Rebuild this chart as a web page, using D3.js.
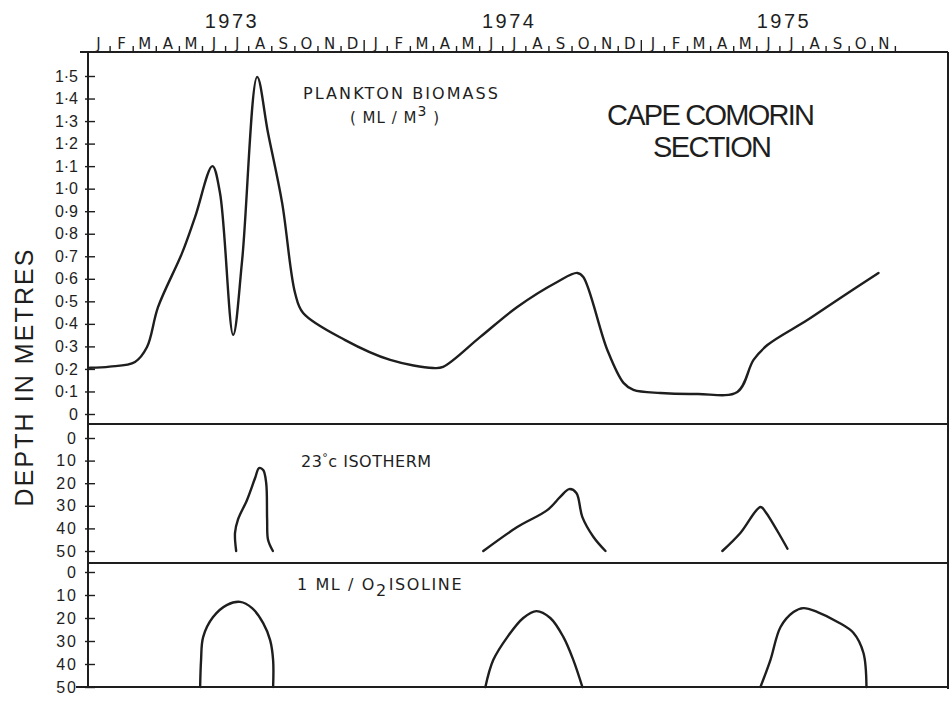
<!DOCTYPE html>
<html>
<head>
<meta charset="utf-8">
<script src="https://cdn.jsdelivr.net/npm/d3@7/dist/d3.min.js"></script>
<style>
  body { margin: 0; background: #fff; }
  svg { display: block; }
</style>
</head>
<body>
<svg id="chart" width="952" height="702" font-family="Liberation Sans, Arial, sans-serif" fill="#1e1e1e"></svg>
<script>
// months Jan 1973 .. Nov 1975 (index 0 = Jan 1973)
const monthLetters = [
  "J","F","M","A","M","J","J","A","S","O","N","D",
  "J","F","M","A","M","J","J","A","S","O","N","D",
  "J","F","M","A","M","J","J","A","S","O","N"
]
const years = ["1973", "1974", "1975"]
const yearMonth = [6.3, 18.3, 30.2]

const biomassTicks = [0, 0.1, 0.2, 0.3, 0.4, 0.5, 0.6, 0.7, 0.8, 0.9, 1.0, 1.1, 1.2, 1.3, 1.4, 1.5]
const depthTicks = [0, 10, 20, 30, 40, 50]

// plankton biomass ml/m3
const biomassMonth = [0.15, 1.0, 2.1, 2.62, 3.1, 4.14, 4.7, 5.45, 5.78, 6.35, 6.74, 7.39, 7.86, 8.47, 9.03, 9.38, 11.2, 13.15, 15.01, 15.44, 17.05, 18.65, 20.38, 21.25, 21.51, 22.55, 23.25, 23.68, 24.85, 26.45, 28.18, 28.88, 29.48, 31.21, 32.64, 34.29]
const biomassValue = [0.205, 0.21, 0.231, 0.297, 0.475, 0.715, 0.874, 1.1, 0.981, 0.351, 0.684, 1.496, 1.247, 0.937, 0.537, 0.448, 0.328, 0.24, 0.204, 0.209, 0.342, 0.475, 0.586, 0.626, 0.608, 0.284, 0.138, 0.107, 0.093, 0.089, 0.098, 0.24, 0.306, 0.417, 0.515, 0.626]

// 23°C isotherm depth (m)
const iso73Month = [6.48, 6.43, 6.56, 6.95, 7.3, 7.47, 7.65, 7.78, 7.82, 7.86, 8.07]
const iso73Depth = [50, 42, 36, 27.4, 17.7, 13.3, 14.2, 19.9, 36, 45, 50]
const iso74Month = [17.18, 18.65, 19.95, 20.51, 20.9, 21.21, 21.47, 21.95, 22.47]
const iso74Depth = [50, 39.4, 31.9, 26.1, 22.6, 24.3, 35, 43.8, 50]
const iso75Month = [27.53, 28.31, 29.18, 29.4, 30.35]
const iso75Depth = [50, 42, 30.5, 32.7, 49]

// 1 ml/l O2 isoline depth (m)
const oxy73Month = [4.92, 4.96, 5.05, 5.48, 6.09, 6.65, 7.17, 7.65, 7.95, 8.08, 8.08]
const oxy73Depth = [50, 38.3, 28.3, 19.6, 14.3, 13.0, 15.7, 22.2, 29.6, 38.3, 50]
const oxy74Month = [17.27, 17.61, 18.22, 18.91, 19.48, 20.08, 20.65, 21.08, 21.47]
const oxy74Depth = [50, 38.3, 28.3, 20, 17, 20, 28.3, 38.3, 50]
const oxy75Month = [29.18, 29.61, 30.05, 30.61, 31.04, 31.65, 32.52, 33.21, 33.64, 33.77]
const oxy75Depth = [50, 38.3, 23.9, 17.4, 15.7, 17.4, 21.7, 26.5, 35.2, 50]

const svg = d3.select("#chart")
const ink = "#1e1e1e"
const wide = "DejaVu Sans, Verdana, sans-serif"

const x = d3.scaleLinear().domain([0, 37.3]).range([86.5, 948])
const y1 = d3.scaleLinear().domain([0, 1.5]).range([414, 76])
const y2 = d3.scaleLinear().domain([0, 50]).range([438, 551])
const y3 = d3.scaleLinear().domain([0, 50]).range([572, 687])

const frameLeft = 88, frameRight = 948, frameTop = 52, frameBottom = 687

// frame
const frame = svg.append("g").attr("stroke", ink).attr("stroke-width", 2).attr("fill", "none")
frame.append("line").attr("x1", 80).attr("x2", frameRight).attr("y1", frameTop).attr("y2", frameTop)
frame.append("line").attr("x1", frameLeft).attr("x2", frameLeft).attr("y1", frameTop).attr("y2", frameBottom)
frame.append("line").attr("x1", frameRight).attr("x2", frameRight).attr("y1", frameTop).attr("y2", frameBottom + 2)
frame.append("line").attr("x1", frameLeft).attr("x2", frameRight).attr("y1", 424).attr("y2", 424)
frame.append("line").attr("x1", frameLeft).attr("x2", frameRight).attr("y1", 563).attr("y2", 563)
frame.append("line").attr("x1", 76).attr("x2", frameRight).attr("y1", frameBottom).attr("y2", frameBottom)

// top month axis: boundary ticks
const boundaries = d3.range(1, 36)
const tickAxis = d3.axisTop(x).tickValues(boundaries).tickFormat("").tickSizeOuter(0)
  .tickSize(6)
const gTicks = svg.append("g").attr("transform", `translate(0,${frameTop})`).call(tickAxis)
gTicks.select(".domain").remove()
gTicks.selectAll(".tick line").attr("stroke", ink).attr("stroke-width", 1.4)
  .attr("y2", d => d % 12 === 0 ? -12 : -6)

const labelAxis = d3.axisTop(x).tickValues(monthLetters.map((d, i) => i + 0.5))
  .tickFormat((d, i) => monthLetters[i]).tickSize(0).tickPadding(3)
const gMonths = svg.append("g").attr("transform", `translate(0,${frameTop})`).call(labelAxis)
gMonths.select(".domain").remove()
gMonths.attr("font-family", wide).attr("font-size", 15)
gMonths.selectAll("text").attr("fill", ink)

svg.selectAll(".year").data(years).join("text")
  .attr("class", "year")
  .attr("x", (d, i) => x(yearMonth[i]))
  .attr("y", 28)
  .attr("text-anchor", "middle")
  .attr("font-size", 20)
  .attr("letter-spacing", 2.5)
  .text(d => d)

// left axes
function leftAxis(scale, ticks, fmt, spacing) {
  const ax = d3.axisLeft(scale).tickValues(ticks).tickFormat(fmt).tickSize(-7).tickPadding(10)
  const g = svg.append("g").attr("transform", `translate(${frameLeft},0)`).call(ax)
  g.select(".domain").remove()
  g.attr("font-family", "Liberation Sans, Arial, sans-serif").attr("font-size", 16)
  g.selectAll(".tick line").attr("x1", -3).attr("stroke", ink).attr("stroke-width", 1.4)
  g.selectAll("text").attr("fill", ink).attr("letter-spacing", spacing)
  return g
}
const fmtBio = d => d === 0 ? "0" : d3.format(".1f")(d).replace(".", "·")
leftAxis(y1, biomassTicks, fmtBio, 0)
leftAxis(y2, depthTicks, d => d, 2)
leftAxis(y3, depthTicks, d => d, 2)

svg.append("text")
  .attr("transform", "translate(33,378) rotate(-90)")
  .attr("text-anchor", "middle")
  .attr("font-size", 25)
  .attr("textLength", 257)
  .attr("lengthAdjust", "spacing")
  .text("DEPTH IN METRES")

// curves
const pen = g => g.attr("fill", "none").attr("stroke", ink).attr("stroke-width", 2.4)
  .attr("stroke-linejoin", "round").attr("stroke-linecap", "round")

const bioLine = d3.line().x(d => x(d[0])).y(d => y1(d[1])).curve(d3.curveCatmullRom.alpha(0.5))
svg.append("path").call(pen).attr("d", bioLine(d3.zip(biomassMonth, biomassValue)))

const isoLine = d3.line().x(d => x(d[0])).y(d => y2(d[1])).curve(d3.curveCatmullRom.alpha(0.5))
;[[iso73Month, iso73Depth], [iso74Month, iso74Depth], [iso75Month, iso75Depth]].forEach(([m, v]) => {
  svg.append("path").call(pen).attr("d", isoLine(d3.zip(m, v)))
})

const oxyLine = d3.line().x(d => x(d[0])).y(d => y3(d[1])).curve(d3.curveCatmullRom.alpha(0.5))
;[[oxy73Month, oxy73Depth], [oxy74Month, oxy74Depth], [oxy75Month, oxy75Depth]].forEach(([m, v]) => {
  svg.append("path").call(pen).attr("d", oxyLine(d3.zip(m, v)))
})

// labels
svg.append("text").attr("x", 303).attr("y", 99).attr("font-size", 16).attr("font-family", wide)
  .attr("textLength", 195).attr("lengthAdjust", "spacing").text("PLANKTON BIOMASS")
const unit = svg.append("text").attr("x", 350).attr("y", 123).attr("font-size", 15)
  .attr("font-family", wide).attr("letter-spacing", 1)
unit.append("tspan").text("( ML / M")
unit.append("tspan").attr("dy", -7).attr("font-size", 14).text("3")
unit.append("tspan").attr("dy", 7).text(" )")

svg.append("text").attr("x", 607).attr("y", 125).attr("font-size", 29)
  .attr("textLength", 208).attr("lengthAdjust", "spacing").text("CAPE COMORIN")
svg.append("text").attr("x", 653).attr("y", 157).attr("font-size", 29)
  .attr("textLength", 119).attr("lengthAdjust", "spacing").text("SECTION")

const iso = svg.append("text").attr("x", 301).attr("y", 467).attr("font-size", 16)
  .attr("font-family", wide).attr("letter-spacing", 0.5)
iso.append("tspan").text("23")
iso.append("tspan").attr("dy", -6).attr("font-size", 11).text("°")
iso.append("tspan").attr("dy", 6).text("c  ISOTHERM")

const oxy = svg.append("text").attr("x", 297).attr("y", 590).attr("font-size", 16)
  .attr("font-family", wide).attr("letter-spacing", 1.6)
oxy.append("tspan").text("1  ML / O")
oxy.append("tspan").attr("dy", 6).text("2")
oxy.append("tspan").attr("dy", -6).attr("dx", 1).text("ISOLINE")
</script>
</body>
</html>
